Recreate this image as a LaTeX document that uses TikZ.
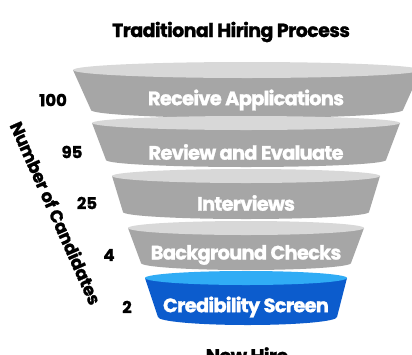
\documentclass[tikz,border=0pt]{standalone}
\usepackage{fontspec}
\setmainfont{Poppins}[BoldFeatures={FakeBold=1.2}]
\definecolor{gbody}{RGB}{166,166,166}
\definecolor{gtop}{RGB}{216,216,216}
\definecolor{bbody}{RGB}{12,92,205}
\definecolor{btop}{RGB}{48,172,245}
\newcommand{\funnelseg}[8]{%
  % #1 cx, #2 yt, #3 wt, #4 rt, #5 yb, #6 wb, #7 rb, #8 prefix color
  \fill[#8body] (#1-#3,#2) -- (#1-#6,#5) arc[start angle=180,end angle=0,x radius=#6,y radius=#7] -- (#1+#3,#2) -- cycle;
  \fill[#8top] (#1,#2) ellipse[x radius=#3,y radius=#4];
}
\tikzset{
  stagelabel/.style={text=white,font=\bfseries\fontsize{19.5}{21}\selectfont\addfontfeatures{LetterSpace=-4},inner sep=0pt},
  countlabel/.style={text=black,font=\bfseries\fontsize{16.5}{18}\selectfont,inner sep=0pt},
  axislabel/.style={text=black,font=\bfseries\fontsize{17.5}{19}\selectfont\addfontfeatures{LetterSpace=-2},inner sep=0pt},
  titlelabel/.style={text=black,font=\bfseries\fontsize{19}{21}\selectfont\addfontfeatures{LetterSpace=-3},inner sep=0pt},
}
\begin{document}
\begin{tikzpicture}[x=1pt,y=-1pt]
\useasboundingbox (0,0) rectangle (412,354);
\fill[white] (0,0) rectangle (412,354);
\node[titlelabel] (title) at (231,32) {Traditional Hiring Process};
\funnelseg{247}{70}{174}{8}{110}{156}{8}{g}
\funnelseg{246}{123}{154}{7}{160}{140}{7}{g}
\funnelseg{246}{176}{134}{7}{212}{123}{7}{g}
\funnelseg{246}{228}{118}{7}{263}{105}{7}{g}
\fill[bbody] (145,278) -- (158,317) arc[start angle=180,end angle=0,x radius=89.5,y radius=8] -- (347,278) -- cycle;
\fill[btop] (246,278) ellipse[x radius=101,y radius=7];
\node[stagelabel] (s1) at (246,100) {Receive Applications};
\node[stagelabel] (s2) at (246,152) {Review and Evaluate};
\node[stagelabel] (s3) at (246,203) {Interviews};
\node[stagelabel] (s4) at (246,255) {Background Checks};
\node[stagelabel] (s5) at (246,307) {Credibility Screen};
\node[countlabel] (c1) at (53,100) {100};
\node[countlabel] (c2) at (72,152) {95};
\node[countlabel] (c3) at (87,203) {25};
\node[countlabel] (c4) at (109,255) {4};
\node[countlabel] (c5) at (127,307) {2};
\node[axislabel,rotate=-66] (axis) at (56,213) {Number of Candidates};
\node[titlelabel] (hire) at (247,355) {New Hire};
\end{tikzpicture}
\end{document}
